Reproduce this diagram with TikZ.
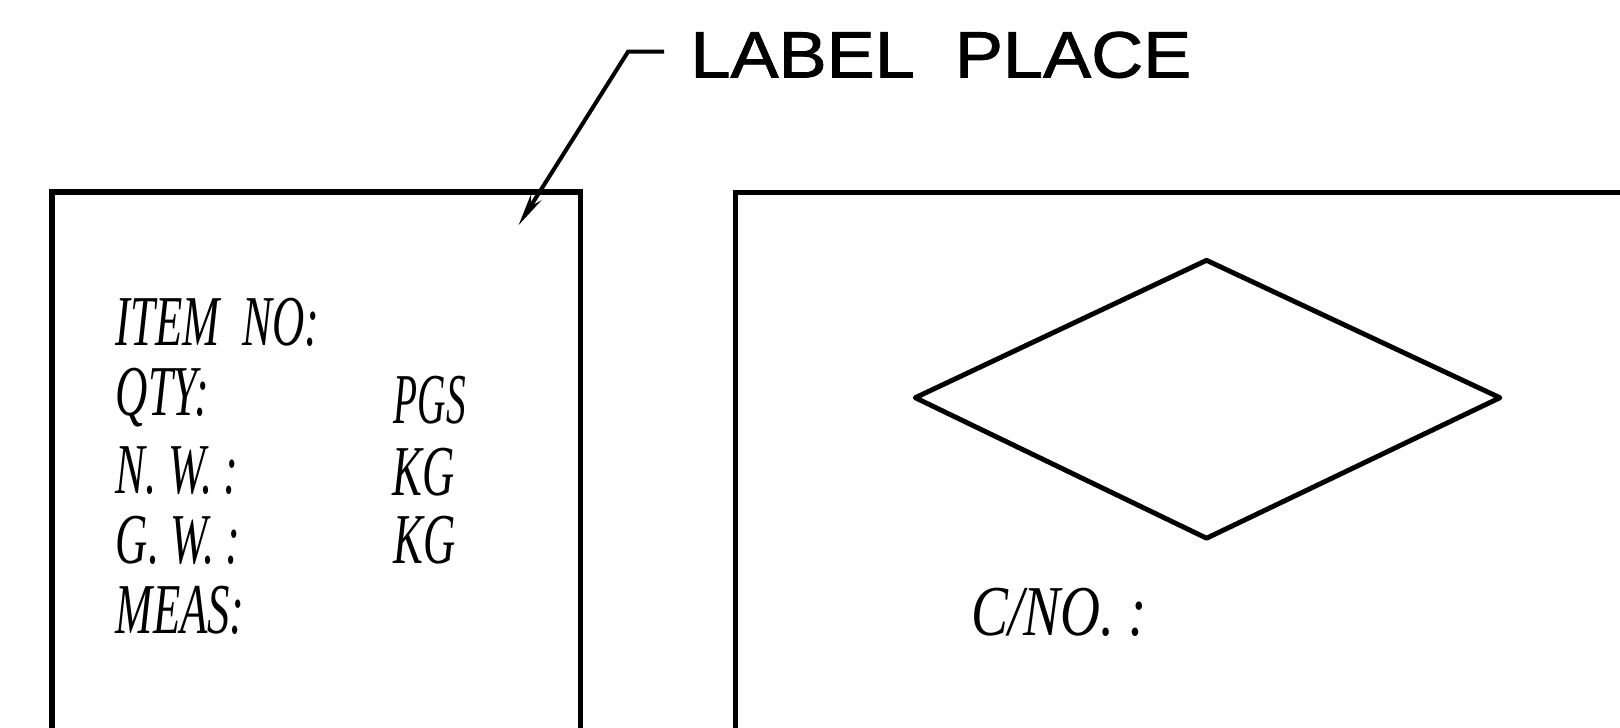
\documentclass[tikz,border=0pt]{standalone}
\usepackage{fontspec}
\setmainfont{Liberation Serif}
\newfontfamily\capfont[FakeBold=1.2]{Liberation Sans}
\usetikzlibrary{arrows.meta}

\tikzset{
	frame/.style={line width=2.9pt, line join=miter},
	field/.style={anchor=base west, inner sep=0pt, xscale=0.624,
		font=\fontsize{40.7}{44}\selectfont\itshape},
	leader/.style={line width=2.3pt, -{Stealth[length=0.66cm, width=0.24cm]}},
}

\begin{document}
\begin{tikzpicture}[x=0.02066cm, y=-0.02066cm]

	\useasboundingbox (0cm,0cm) rectangle (32.4cm,-14.54cm);
	\clip (0cm,0cm) rectangle (32.4cm,-14.54cm);

	% the two panels
	\draw[frame, line width=3.3pt] (50,760) |- (562,186) -- (562,760);
	\draw[frame] (712,760) |- (1660,186);

	% left panel fields
	\foreach \name / \y / \txt in {
	item/334/ITEM\ \ NO:,
	qty/402/QTY:,
	nw/478/N.\ W.\ :,
	gw/545/G.\ W.\ :,
	meas/613/MEAS:}
	{
		\node[field] (\name) at (112,\y) {\txt};
	};

	\node[field, xscale=0.88] (pgs) at (381,410) {PGS};
	\node[field] (kg1) at (380,480) {KG};
	\node[field] (kg2) at (381,545) {KG};

	% diamond mark
	\node (d1) at (1168,252) {};
	\node (d2) at (1452,385) {};
	\node (d3) at (1168,521) {};
	\node (d4) at (886,385) {};
	\draw[frame, line width=2.8pt, line join=round]
		(d1.center) -- (d2.center) -- (d3.center) -- (d4.center) -- cycle;

	\node[field, xscale=1.24] (cno) at (940,615) {C/NO.\ :};

	% label callout
	\node[anchor=base west, inner sep=0pt, xscale=1.1,
		font=\fontsize{37.3}{42}\selectfont\capfont] (lbl) at (668,75) {LABEL\ \ PLACE};
	\coordinate (lead) at (643,50);
	\coordinate (bend) at (608,50);
	\coordinate (tip) at (502,218);
	\draw[leader] (lead) -- (bend) -- (tip);

\end{tikzpicture}
\end{document}
